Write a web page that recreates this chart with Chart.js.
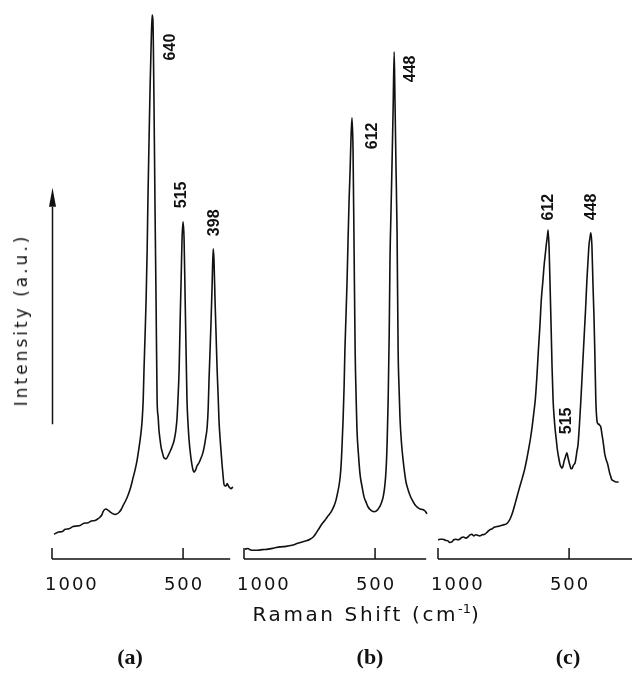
<!DOCTYPE html>
<html>
<head>
<meta charset="utf-8">
<script src="https://cdn.jsdelivr.net/npm/chart.js@4.4.1/dist/chart.umd.min.js"></script>
<style>
  body { margin: 0; background: #fff; }
  #wrap { position: relative; width: 632px; height: 674px; overflow: hidden; }
  #wrap canvas { position: absolute; left: 0; top: 0; }
  .txt { position: absolute; color: #111; white-space: nowrap; }
  #xtitle { left: 0; width: 734px; top: 601px; text-align: center; font: 20px "DejaVu Sans"; letter-spacing: 2.6px; }
  #xtitle sup { font-size: 13px; letter-spacing: 0; }
  #ytitle { left: 21px; top: 320px; transform: translate(-50%, -50%) rotate(-90deg); font: 17px "DejaVu Sans"; letter-spacing: 3px; }
  .cap { top: 644px; font: bold 22px "Liberation Serif"; transform: translateX(-50%); }
</style>
</head>
<body>
<div id="wrap">
  <canvas id="ca" width="632" height="674"></canvas>
  <canvas id="cb" width="632" height="674"></canvas>
  <canvas id="cc" width="632" height="674"></canvas>
  <div class="txt" id="ytitle">Intensity (a.u.)</div>
  <div class="txt" id="xtitle">Raman Shift (cm<sup>-1</sup>)</div>
  <div class="txt cap" style="left:130px">(a)</div>
  <div class="txt cap" style="left:370px">(b)</div>
  <div class="txt cap" style="left:568px">(c)</div>
</div>
<script>
// spectrum (a)
const aShift = [992, 975, 960, 950, 935, 920, 905, 893, 878, 862, 850, 836, 825, 817, 810, 805, 799, 794, 787, 779, 770, 760, 752, 744, 736, 729, 720, 710, 700, 691, 683, 676, 670, 664, 659, 656, 652, 649, 645, 641, 637, 634, 630, 626, 622, 618, 615, 611, 607, 603, 599, 595, 592, 588, 584, 578, 573, 565, 557, 550, 542, 534, 528, 523, 519, 515, 511, 507, 504, 500, 496, 492, 488, 485, 481, 477, 471, 466, 462, 458, 452, 447, 439, 431, 425, 420, 414, 408, 404, 401, 397, 393, 389, 385, 382, 378, 374, 370, 366, 363, 357, 351, 347, 344, 340, 336, 332, 328, 323, 317, 310];
const aIntensity = [4.5, 4.9, 5.0, 5.4, 5.5, 5.9, 6.0, 6.1, 6.5, 6.6, 6.9, 7.0, 7.3, 7.6, 8.0, 8.6, 9.0, 9.1, 8.9, 8.6, 8.3, 8.1, 8.2, 8.5, 9.0, 9.7, 10.5, 11.6, 13.0, 14.7, 16.2, 17.8, 19.6, 21.6, 23.6, 25.3, 29.0, 34.4, 40.5, 47.1, 56.0, 65.3, 75.5, 85.3, 93.0, 98.9, 98.0, 83.5, 64.0, 47.1, 28.9, 25.8, 23.5, 21.8, 20.4, 19.2, 18.4, 18.2, 18.8, 19.5, 20.4, 21.6, 23.2, 25.6, 29.5, 34.4, 43.5, 51.5, 58.0, 61.3, 58.0, 47.1, 36.5, 28.9, 24.6, 21.6, 18.8, 17.1, 16.2, 15.8, 16.2, 16.9, 17.5, 18.4, 19.2, 20.2, 21.9, 24.0, 27.5, 32.5, 37.8, 43.5, 50.0, 56.4, 54.4, 47.1, 40.8, 34.4, 29.5, 25.3, 20.8, 17.1, 15.0, 13.6, 13.3, 13.3, 13.7, 13.4, 13.0, 12.8, 13.1];
// spectrum (b)
const bShift = [996, 985, 977, 962, 947, 930, 908, 885, 863, 840, 817, 798, 779, 762, 748, 736, 725, 713, 702, 692, 683, 673, 664, 656, 649, 643, 637, 633, 630, 626, 622, 618, 615, 611, 607, 603, 599, 595, 592, 588, 584, 580, 576, 572, 569, 563, 557, 549, 542, 534, 527, 519, 511, 504, 496, 488, 481, 475, 469, 463, 458, 454, 450, 446, 443, 439, 435, 431, 427, 424, 420, 416, 412, 408, 405, 399, 393, 387, 382, 374, 366, 357, 347, 338, 328, 320, 313, 307, 302];
const bIntensity = [1.8, 1.9, 1.7, 1.6, 1.6, 1.7, 1.8, 2.0, 2.2, 2.3, 2.5, 2.8, 3.1, 3.3, 3.6, 4.0, 4.7, 5.6, 6.4, 7.0, 7.6, 8.2, 8.9, 9.7, 10.7, 12.0, 13.5, 15.0, 16.7, 20.5, 25.3, 31.5, 38.0, 44.0, 50.2, 58.0, 65.3, 71.0, 76.2, 80.2, 74.4, 56.2, 38.0, 29.0, 23.5, 18.8, 15.3, 13.0, 11.3, 10.3, 9.5, 9.0, 8.7, 8.6, 8.7, 9.1, 9.6, 10.3, 11.3, 13.2, 16.2, 21.0, 28.9, 41.0, 54.4, 63.5, 72.5, 82.0, 92.2, 83.5, 71.0, 59.3, 38.0, 30.5, 25.8, 21.0, 18.0, 15.6, 14.0, 12.6, 11.5, 10.6, 9.8, 9.4, 9.1, 9.0, 8.9, 8.6, 8.2];
// spectrum (c)
const cShift = [1000, 990, 981, 972, 962, 955, 947, 940, 932, 925, 917, 910, 902, 894, 886, 878, 871, 864, 856, 849, 841, 832, 822, 812, 803, 793, 784, 775, 765, 752, 739, 731, 723, 714, 705, 696, 686, 678, 670, 662, 655, 647, 640, 634, 629, 623, 617, 611, 606, 600, 595, 591, 587, 583, 580, 576, 572, 568, 565, 561, 557, 553, 549, 545, 540, 534, 530, 527, 523, 519, 515, 511, 508, 504, 500, 496, 493, 489, 485, 481, 477, 473, 470, 466, 461, 455, 449, 443, 437, 432, 428, 424, 420, 417, 413, 409, 405, 402, 398, 394, 390, 386, 383, 379, 375, 371, 367, 364, 358, 352, 348, 345, 341, 337, 333, 330, 326, 322, 316, 311];
const cIntensity = [3.5, 3.6, 3.6, 3.4, 3.3, 3.0, 3.1, 3.5, 3.6, 3.5, 3.6, 3.9, 4.0, 3.8, 4.0, 4.4, 4.5, 4.2, 4.4, 4.3, 4.2, 4.4, 4.5, 4.9, 5.3, 5.5, 5.8, 5.9, 6.0, 6.2, 6.4, 6.8, 7.5, 8.7, 10.2, 11.8, 13.5, 14.8, 16.2, 18.0, 19.8, 22.0, 24.4, 26.8, 28.9, 33.0, 38.0, 42.6, 47.1, 50.5, 53.5, 55.3, 57.1, 58.6, 59.8, 56.2, 48.8, 41.1, 35.0, 28.9, 25.8, 23.5, 21.8, 20.0, 18.5, 17.1, 16.7, 16.5, 16.9, 17.8, 18.4, 19.0, 19.3, 18.4, 17.6, 16.9, 16.4, 16.4, 16.9, 17.2, 17.5, 18.6, 19.6, 20.7, 24.0, 28.9, 34.5, 40.0, 45.5, 50.7, 54.0, 57.1, 58.5, 59.3, 57.1, 50.2, 44.0, 38.0, 28.9, 25.3, 24.6, 24.5, 24.3, 24.0, 22.8, 21.6, 20.2, 19.1, 18.0, 17.1, 16.2, 15.6, 15.0, 14.4, 14.3, 14.2, 14.1, 14.0, 14.0, 14.0];

const tickValues = [1000, 500];
const tickLabels = ['1000', '500'];

const aPeakLabels = ['640', '515', '398'];
const aPeakShift = [618, 500, 385];
const bPeakLabels = ['612', '448'];
const bPeakShift = [588, 427];
const cPeakLabels = ['612', '448', '515'];
const cPeakShift = [580, 417, 508];

const INK = '#111';

const decoPlugin = {
  id: 'deco',
  afterDraw(chart, args, opts) {
    const ctx = chart.ctx;
    const xs = chart.scales.x, ys = chart.scales.y;
    const base = chart.chartArea.bottom;
    ctx.save();
    ctx.strokeStyle = INK;
    ctx.fillStyle = INK;
    ctx.lineWidth = 1.5;
    // axis line with upward ticks
    ctx.beginPath();
    ctx.moveTo(xs.getPixelForValue(1000), base);
    ctx.lineTo(xs.getPixelForValue(opts.axisEnd), base);
    tickValues.forEach(v => {
      const px = xs.getPixelForValue(v);
      ctx.moveTo(px, base);
      ctx.lineTo(px, base - 11);
    });
    ctx.stroke();
    // tick labels
    ctx.font = '18px "DejaVu Sans"';
    ctx.letterSpacing = '2px';
    ctx.textBaseline = 'alphabetic';
    tickValues.forEach((v, i) => {
      const px = xs.getPixelForValue(v);
      if (i === 0) { ctx.textAlign = 'left'; ctx.fillText(tickLabels[i], px - 7, base + 31); }
      else { ctx.textAlign = 'center'; ctx.fillText(tickLabels[i], px + 1, base + 31); }
    });
    // rotated peak labels
    ctx.letterSpacing = '0px';
    ctx.font = 'bold 16px "Liberation Sans"';
    ctx.textAlign = 'center';
    ctx.textBaseline = 'middle';
    const ds = chart.data.datasets[0].data;
    opts.labels.forEach((t, i) => {
      const s = opts.shifts[i];
      const pt = ds.find(p => p.x === s);
      const px = xs.getPixelForValue(s) + opts.offsets[i][0];
      const py = ys.getPixelForValue(pt.y) + opts.offsets[i][1];
      ctx.save();
      ctx.translate(px, py);
      ctx.rotate(-Math.PI / 2);
      ctx.fillText(t, 0, 0);
      ctx.restore();
    });
    // intensity arrow
    if (opts.arrow) {
      const ax = xs.getPixelForValue(1000) + 0.5;
      ctx.beginPath();
      ctx.moveTo(ax, ys.getPixelForValue(24.5));
      ctx.lineTo(ax, ys.getPixelForValue(64));
      ctx.stroke();
      const tip = ys.getPixelForValue(67.5);
      ctx.beginPath();
      ctx.moveTo(ax, tip);
      ctx.lineTo(ax - 3.5, tip + 19);
      ctx.lineTo(ax + 3.5, tip + 19);
      ctx.closePath();
      ctx.fill();
    }
    ctx.restore();
  }
};

function makePanel(id, shift, intensity, xMin, axisEnd, padLeft, padRight, labels, shifts, offsets, arrow) {
  const pts = shift.map((x, i) => ({ x: x, y: intensity[i] }));
  return new Chart(document.getElementById(id), {
    type: 'line',
    data: {
      datasets: [{
        data: pts,
        borderColor: INK,
        borderWidth: 1.6,
        pointRadius: 0,
        cubicInterpolationMode: 'monotone',
        fill: false
      }]
    },
    options: {
      responsive: false,
      animation: false,
      events: [],
      layout: { padding: { left: padLeft, right: padRight, top: 9, bottom: 115 } },
      plugins: {
        legend: { display: false },
        tooltip: { enabled: false },
        deco: { axisEnd: axisEnd, labels: labels, shifts: shifts, offsets: offsets, arrow: arrow }
      },
      scales: {
        x: { type: 'linear', reverse: true, min: xMin, max: 1000, display: false },
        y: { min: 0, max: 100, display: false }
      }
    },
    plugins: [decoPlugin]
  });
}

makePanel('ca', aShift, aIntensity, 298, 320, 52, 396, aPeakLabels, aPeakShift,
  [[18, 32], [-1, -27], [1, -26]], true);
makePanel('cb', bShift, bIntensity, 298, 305, 244, 204, bPeakLabels, bPeakShift,
  [[21, 18], [16, 17]], false);
makePanel('cc', cShift, cIntensity, 260, 260, 438, 0, cPeakLabels, cPeakShift,
  [[0, -23], [1, -26], [0, -32]], false);
</script>
</body>
</html>
